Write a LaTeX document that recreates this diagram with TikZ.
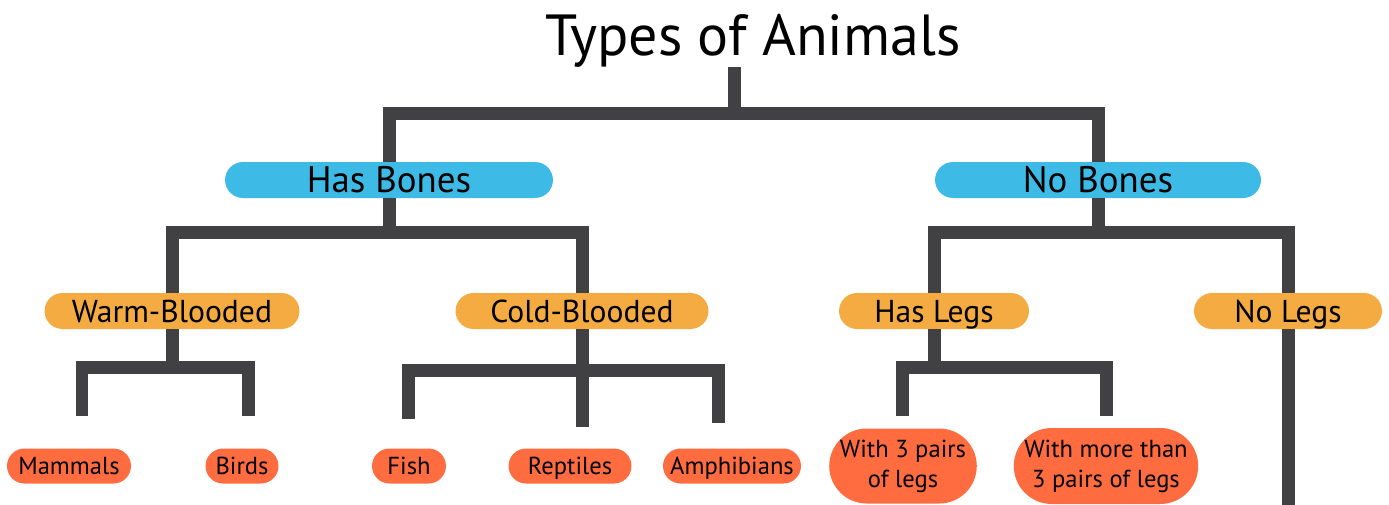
\documentclass[tikz,border=0pt]{standalone}
\usepackage{fontspec}
\setmainfont{PT Sans}
\usetikzlibrary{shapes.misc}
\definecolor{bonecol}{HTML}{3DBBE6}
\definecolor{bloodcol}{HTML}{F4AB42}
\definecolor{kindcol}{HTML}{FF6C40}
\definecolor{linecol}{HTML}{414042}
\begin{document}
\begin{tikzpicture}[x=0.02cm,y=-0.02cm,
  pill/.style={rounded rectangle,inner sep=0pt,minimum height=0.72cm},
  bones/.style={pill,fill=bonecol,text height=15pt,text depth=0.3pt,font=\fontsize{21}{24}\selectfont},
  blood/.style={pill,fill=bloodcol,text height=13pt,text depth=0.4pt,font=\fontsize{18}{21}\selectfont},
  kind/.style={pill,fill=kindcol,minimum height=0.7cm,align=center,font=\fontsize{14}{17}\selectfont},
  onekind/.style={kind,text height=10pt,text depth=0.2pt},
  branch/.style={draw=linecol,line width=0.26cm,line join=miter}]
\useasboundingbox (0,0) rectangle (1389,504);

\node[anchor=base] (title) at (753,55) {\fontsize{33}{36}\selectfont Types of Animals};
\coordinate (top) at (734,67);

\node[bones,minimum width=6.56cm] (hasbones) at (389,180) {Has Bones};
\node[bones,minimum width=6.52cm] (nobones) at (1098,180) {No Bones};

\node[blood,minimum width=5.1cm] (warm) at (172,311) {Warm-Blooded};
\node[blood,minimum width=5.06cm] (cold) at (582,311) {Cold-Blooded};
\node[blood,minimum width=3.8cm] (haslegs) at (934,311) {Has Legs};
\node[blood,minimum width=3.76cm] (nolegs) at (1288,311) {No Legs};

\node[onekind,minimum width=2.48cm] (mammals) at (69,466) {Mammals};
\node[onekind,minimum width=1.46cm] (birds) at (242,466) {Birds};
\node[onekind,minimum width=1.48cm] (fish) at (409,466) {Fish};
\node[onekind,minimum width=2.46cm] (reptiles) at (570,466) {Reptiles};
\node[onekind,minimum width=2.76cm] (amphibians) at (732,466) {Amphibians};
\node[kind,minimum width=2.86cm,minimum height=1.5cm] (threepairs) at (903,466) {With 3 pairs\\of legs};
\node[kind,minimum width=3.68cm,minimum height=1.52cm] (morepairs) at (1106,466) {With more than\\3 pairs of legs};

% free ends above the last row
\coordinate (mammalsend) at (82,416);
\coordinate (birdsend) at (248,416);
\coordinate (fishend) at (408,419);
\coordinate (reptilesend) at (582,427);
\coordinate (amphibiansend) at (718,423);
\coordinate (threeend) at (902,416);
\coordinate (moreend) at (1106,416);
\coordinate (nolegsend) at (1288,510);

\draw[branch] (top) -- ++(0,46) -| (hasbones.north);
\draw[branch] (top) -- ++(0,46) -| (nobones.north);

\draw[branch] (hasbones.south) -- ++(0,34) -| (warm.north);
\draw[branch] (hasbones.south) -- ++(0,34) -| (cold.north);
\draw[branch] (nobones.south) -- ++(0,34) -| (haslegs.north);
\draw[branch] (nobones.south) -- ++(0,34) -| (nolegs.north);

\draw[branch] (warm.south) -- ++(0,38) -| (mammalsend);
\draw[branch] (warm.south) -- ++(0,38) -| (birdsend);
\draw[branch] (cold.south) -- ++(0,41) -| (fishend);
\draw[branch] (cold.south) -- (reptilesend);
\draw[branch] (cold.south) -- ++(0,41) -| (amphibiansend);
\draw[branch] (haslegs.south) -- ++(0,38) -| (threeend);
\draw[branch] (haslegs.south) -- ++(0,38) -| (moreend);
\draw[branch] (nolegs.south) -- (nolegsend);
\end{tikzpicture}
\end{document}
